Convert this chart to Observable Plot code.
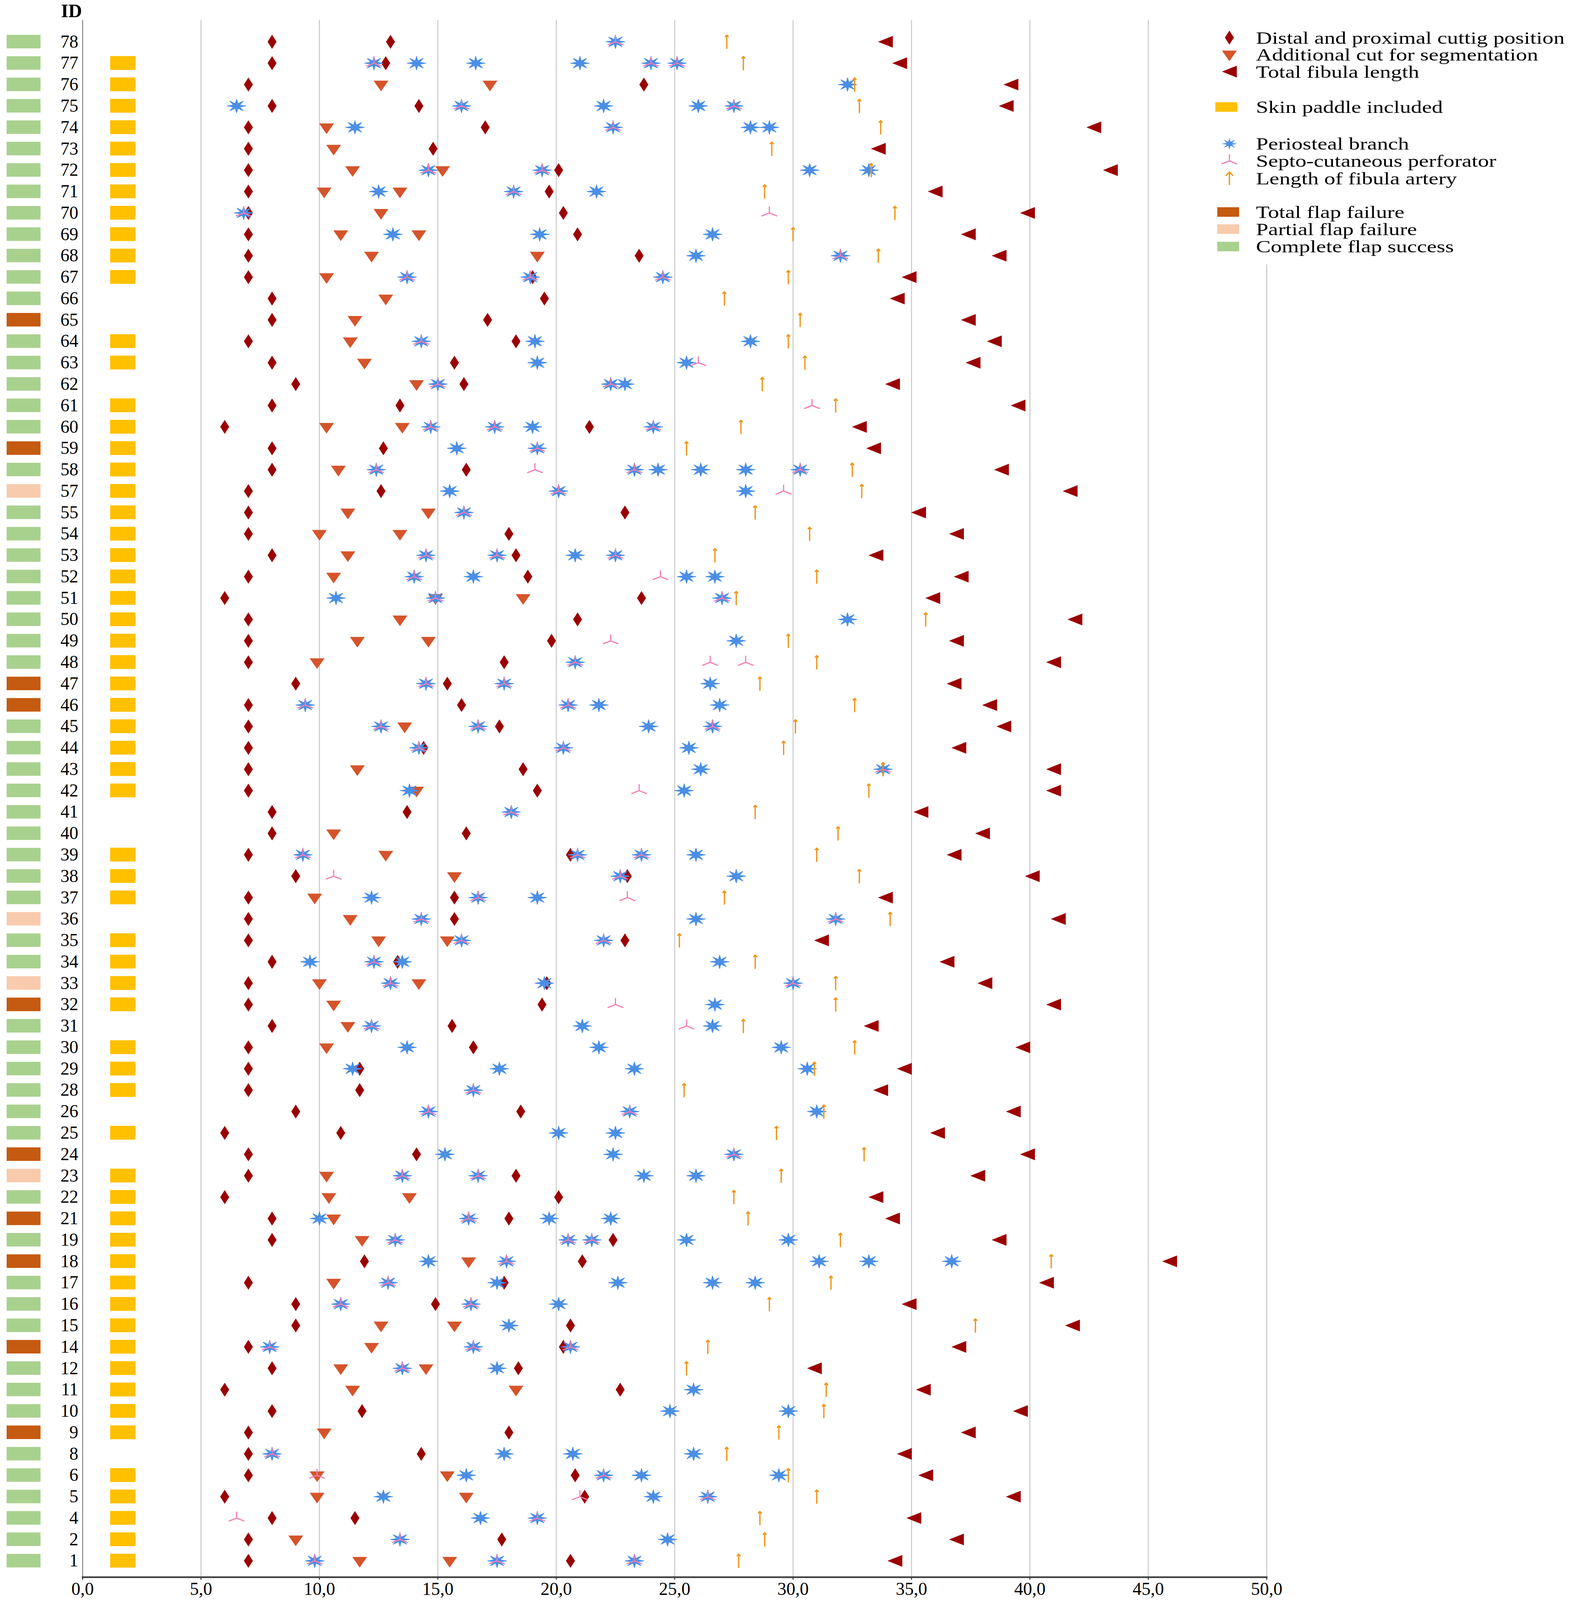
<!DOCTYPE html>
<html>
<head>
<meta charset="utf-8">
<script src="https://cdn.jsdelivr.net/npm/d3@7"></script>
<script src="https://cdn.jsdelivr.net/npm/@observablehq/plot@0.6"></script>
<style>
  html, body { margin: 0; padding: 0; background: #fff; overflow: hidden; }
  #wrap { position: relative; overflow: hidden; background: #fff; }
  #legend { position: absolute; top: 0px; }
</style>
</head>
<body>
<div id="wrap"></div>
<script>
// ---------- DATA (rows listed top to bottom) ----------
const ids = [78,77,76,75,74,73,72,71,70,69,68,67,66,65,64,63,62,61,60,59,58,57,55,54,53,52,51,50,49,48,47,46,45,44,43,42,41,40,39,38,37,36,35,34,33,32,31,30,29,28,26,25,24,23,22,21,19,18,17,16,15,14,12,11,10,9,8,6,5,4,2,1];

// T = total flap failure, P = partial flap failure, S = complete flap success
const outcome = ["S","S","S","S","S","S","S","S","S","S","S","S","S","T","S","S","S","S","S","T","S","P","S","S","S","S","S","S","S","S","T","T","S","S","S","S","S","S","S","S","S","P","S","S","P","T","S","S","S","S","S","S","T","P","S","T","S","T","S","S","S","T","S","S","S","T","S","S","S","S","S","S"];

const skinPaddle = [0,1,1,1,1,1,1,1,1,1,1,1,0,0,1,1,0,1,1,1,1,1,1,1,1,1,1,1,1,1,1,1,1,1,1,1,0,0,1,1,1,0,1,1,1,1,0,1,1,1,0,1,0,1,1,1,1,1,1,1,1,1,1,1,1,1,0,1,1,1,1,1];

const cuttingPositions = [[8.0,13.0],[8.0,12.8],[7.0,23.7],[8.0,14.2],[7.0,17.0],[7.0,14.8],[7.0,20.1],[7.0,19.7],[7.0,20.3],[7.0,20.9],[7.0,23.5],[7.0,19.0],[8.0,19.5],[8.0,17.1],[7.0,18.3],[8.0,15.7],[9.0,16.1],[8.0,13.4],[6.0,21.4],[8.0,12.7],[8.0,16.2],[7.0,12.6],[7.0,22.9],[7.0,18.0],[8.0,18.3],[7.0,18.8],[6.0,23.6],[7.0,20.9],[7.0,19.8],[7.0,17.8],[9.0,15.4],[7.0,16.0],[7.0,17.6],[7.0,14.4],[7.0,18.6],[7.0,19.2],[8.0,13.7],[8.0,16.2],[7.0,20.6],[9.0,23.0],[7.0,15.7],[7.0,15.7],[7.0,22.9],[8.0,13.3],[7.0,19.6],[7.0,19.4],[8.0,15.6],[7.0,16.5],[7.0,11.7],[7.0,11.7],[9.0,18.5],[6.0,10.9],[7.0,14.1],[7.0,18.3],[6.0,20.1],[8.0,18.0],[8.0,22.4],[11.9,21.1],[7.0,17.8],[9.0,14.9],[9.0,20.6],[7.0,20.3],[8.0,18.4],[6.0,22.7],[8.0,11.8],[7.0,18.0],[7.0,14.3],[7.0,20.8],[6.0,21.2],[8.0,11.5],[7.0,17.7],[7.0,20.6]];

const segmentationCuts = [[],[],[12.6,17.2],[],[10.3],[10.6],[11.4,15.2],[10.2,13.4],[12.6],[10.9,14.2],[12.2,19.2],[10.3],[12.8],[11.5],[11.3],[11.9],[14.1],[],[10.3,13.5],[],[10.8],[],[11.2,14.6],[10.0,13.4],[11.2],[10.6],[14.9,18.6],[13.4],[11.6,14.6],[9.9],[],[],[13.6],[],[11.6],[14.1],[],[10.6],[12.8],[15.7],[9.8],[11.3],[12.5,15.4],[],[10.0,14.2],[10.6],[11.2],[10.3],[],[],[],[],[],[10.3],[10.4,13.8],[10.6],[11.8],[16.3],[10.6],[],[12.6,15.7],[12.2],[10.9,14.5],[11.4,18.3],[],[10.2],[],[9.9,15.4],[9.9,16.2],[],[9.0],[11.7,15.5]];

const fibulaLength = [33.9,34.5,39.2,39.0,42.7,33.6,43.4,36.0,39.9,37.4,38.7,34.9,34.4,37.4,38.5,37.6,34.2,39.5,32.8,33.4,38.8,41.7,35.3,36.9,33.5,37.1,35.9,41.9,36.9,41.0,36.8,38.3,38.9,37.0,41.0,41.0,35.4,38.0,36.8,40.1,33.9,41.2,31.2,36.5,38.1,41.0,33.3,39.7,34.7,33.7,39.3,36.1,39.9,37.8,33.5,34.2,38.7,45.9,40.7,34.9,41.8,37.0,30.9,35.5,39.6,37.4,34.7,35.6,39.3,35.1,36.9,34.3];

const periostealBranches = [[22.5],[12.3,14.1,16.6,21.0,24.0,25.1],[32.3],[6.5,16.0,22.0,26.0,27.5],[11.5,22.4,28.2,29.0],[],[14.6,19.4,30.7,33.2],[12.5,18.2,21.7],[6.8],[13.1,19.3,26.6],[25.9,32.0],[13.7,18.9,24.5],[],[],[14.3,19.1,28.2],[19.2,25.5],[15.0,22.3,22.9],[],[14.7,17.4,19.0,24.1],[15.8,19.2],[12.4,23.3,24.3,26.1,28.0,30.3],[15.5,20.1,28.0],[16.1],[],[14.5,17.5,20.8,22.5],[14.0,16.5,25.5,26.7],[10.7,14.9,27.0],[32.3],[27.6],[20.8],[14.5,17.8,26.5],[9.4,20.5,21.8,26.9],[12.6,16.7,23.9,26.6],[14.2,20.3,25.6],[26.1,33.8],[13.8,25.4],[18.1],[],[9.3,20.9,23.6,25.9],[22.7,27.6],[12.2,16.7,19.2],[14.3,25.9,31.8],[16.0,22.0],[9.6,12.3,13.5,26.9],[13.0,19.5,30.0],[26.7],[12.2,21.1,26.6],[13.7,21.8,29.5],[11.4,17.6,23.3,30.6],[16.5],[14.6,23.1,31.0],[20.1,22.5],[15.3,22.4,27.5],[13.5,16.7,23.7,25.9],[],[10.0,16.3,19.7,22.3],[13.2,20.5,21.5,25.5,29.8],[14.6,17.9,31.1,33.2,36.7],[12.9,17.5,22.6,26.6,28.4],[10.9,16.4,20.1],[18.0],[7.9,16.5,20.6],[13.5,17.5],[25.8],[24.8,29.8],[],[8.0,17.8,20.7,25.8],[16.2,22.0,23.6,29.4],[12.7,24.1,26.4],[16.8,19.2],[13.4,24.7],[9.8,17.5,23.3]];

const septoCutaneous = [[22.5],[12.3,24.0,25.1],[],[16.0,27.5],[22.4],[],[14.6,19.4],[18.2],[6.8,29.0],[],[32.0],[13.7,18.9,24.5],[],[],[14.3],[26.0],[15.0,22.3],[30.8],[14.7,17.4,24.1],[19.2],[12.4,19.1,23.3,30.3],[20.1,29.6],[16.1],[],[14.5,17.5,22.5],[14.0,24.4],[14.9,27.0],[],[22.3],[20.8,26.5,28.0],[14.5,17.8],[9.4,20.5],[12.6,16.7,26.6],[14.2,20.3],[33.8],[23.5],[18.1],[],[9.3,20.9,23.6],[10.6,22.7],[16.7,23.0],[14.3,31.8],[16.0,22.0],[12.3],[13.0,30.0],[22.5],[12.2,25.5],[],[],[16.5],[14.6,23.1],[],[27.5],[13.5,16.7],[],[16.3],[13.2,20.5,21.5],[17.9],[12.9],[10.9,16.4],[],[7.9,16.5,20.6],[13.5],[],[],[],[8.0],[9.9,22.0],[21.0,26.4],[6.5,19.2],[13.4],[9.8,17.5,23.3]];

const fibulaArtery = [27.2,27.9,32.6,32.8,33.7,29.1,33.3,28.8,34.3,30.0,33.6,29.8,27.1,30.3,29.8,30.5,28.7,31.8,27.8,25.5,32.5,32.9,28.4,30.7,26.7,31.0,27.6,35.6,29.8,31.0,28.6,32.6,30.1,29.6,33.8,33.2,28.4,31.9,31.0,32.8,27.1,34.1,25.2,28.4,31.8,31.8,27.9,32.6,30.9,25.4,31.3,29.3,33.0,29.5,27.5,28.1,32.0,40.9,31.6,29.0,37.7,26.4,25.5,31.4,31.3,29.4,27.2,29.8,31.0,28.6,28.8,27.7];

const xTicks = [0,5,10,15,20,25,30,35,40,45,50];
const outcomeNames = {T: "Total flap failure", P: "Partial flap failure", S: "Complete flap success"};
const legendLabels = ["Distal and proximal cuttig position", "Additional cut for segmentation", "Total fibula length", "Skin paddle included", "Periosteal branch", "Septo-cutaneous perforator", "Length of fibula artery", "Total flap failure", "Partial flap failure", "Complete flap success"];

// ---------- STYLE ----------
const C = {
  cut: "#9b0000", seg: "#d5542b", len: "#9b0000", skin: "#ffc000",
  peri: "#4b8fe5", septo: "#f47cb4", artery: "#ee961a",
  total: "#c55a11", partial: "#f8cbad", success: "#a9d18e",
  grid: "#c9c9c9"
};
const FONT = "'Liberation Serif', 'Times New Roman', serif";

// design space is 4024 x 5698; fit it to the visible window
const DW = 4024, DH = 5698;
const W = Math.min(window.innerWidth || DW, DW);
const H = Math.min(window.innerHeight || DH, DH);
const SX = W / DW, SY = H / DH, K = Math.sqrt(SX * SY);
const FS = Math.min(1, SY * 1.12);
const px = v => v * SX, py = v => v * SY;
const wrap = document.getElementById("wrap");
wrap.style.width = W + "px"; wrap.style.height = H + "px";

// ---------- custom symbols (sized in design pixels) ----------
const symDiamond = {draw(c){c.moveTo(0,py(-25)); c.lineTo(px(11.5),0); c.lineTo(0,py(25)); c.lineTo(px(-11.5),0); c.closePath();}};
const symTriDown = {draw(c){c.moveTo(px(-19),py(-14)); c.lineTo(px(19),py(-14)); c.lineTo(0,py(24)); c.closePath();}};
const symTriLeft = {draw(c){c.moveTo(px(-19),0); c.lineTo(px(19),py(-21)); c.lineTo(px(19),py(21)); c.closePath();}};
const starOf = r => ({draw(c){for (let k = 0; k < 16; k++){const a = -Math.PI/2 + k*Math.PI/8; const rr = k % 2 ? 0.36*r : r; const x = px(rr*Math.cos(a)), y = py(rr*Math.sin(a)); k ? c.lineTo(x,y) : c.moveTo(x,y);} c.closePath();}});
const symStar = starOf(24), symStarLegend = starOf(21);
const symY = {draw(c){c.moveTo(0,py(-23)); c.lineTo(0,0); c.moveTo(px(-20),py(11)); c.lineTo(0,0); c.lineTo(px(20),py(11));}};

// ---------- tables ----------
const rows = ids.map((id, i) => ({id: String(id), outcome: outcomeNames[outcome[i]], skin: skinPaddle[i]}));
const flat = arr => ids.flatMap((id, i) => [].concat(arr[i]).map(v => ({id: String(id), v})));

const arrowLen = py(47);
const chart = Plot.plot({
  width: W, height: H,
  marginLeft: px(211), marginRight: px(DW - 3242), marginTop: py(71), marginBottom: py(82),
  style: {fontFamily: FONT, fontSize: (57 * FS) + "px", background: "white", color: "black"},
  x: {domain: [0, 50], label: null},
  y: {type: "band", domain: ids.map(String), range: [py(110), py(5596)], padding: 0, label: null},
  color: {type: "ordinal", domain: Object.values(outcomeNames), range: [C.total, C.partial, C.success], legend: false},
  marks: [
    Plot.gridX(xTicks.slice(1), {stroke: C.grid, strokeOpacity: 1, strokeWidth: 3 * K}),
    Plot.ruleX([0], {stroke: "#8a8a8a", strokeWidth: 3 * K}),
    Plot.frame({anchor: "bottom", stroke: "#3c3c3c", strokeWidth: 5 * K}),
    Plot.axisX({ticks: xTicks, tickFormat: d => d.toFixed(1).replace(".", ","), tickSize: py(10), tickPadding: py(8), stroke: "#3c3c3c", strokeWidth: 3 * K, fontSize: 57 * FS, label: null}),
    Plot.axisY({tickSize: 0, tickPadding: px(11), fontSize: 57 * FS, label: null}),
    Plot.barX(rows, {y: "id", x1: -3.2, x2: -1.77, fill: "outcome", insetTop: py(14), insetBottom: py(14)}),
    Plot.barX(rows.filter(d => d.skin), {y: "id", x1: 1.17, x2: 2.24, fill: C.skin, insetTop: py(13.5), insetBottom: py(13.5)}),
    Plot.dot(flat(cuttingPositions), {x: "v", y: "id", symbol: symDiamond, r: 10, fill: C.cut, stroke: "none"}),
    Plot.dot(flat(segmentationCuts), {x: "v", y: "id", symbol: symTriDown, r: 10, fill: C.seg, stroke: "none"}),
    Plot.dot(flat(periostealBranches), {x: "v", y: "id", symbol: symStar, r: 10, fill: C.peri, stroke: C.peri, strokeWidth: 2 * K, strokeLinejoin: "round"}),
    Plot.dot(flat(septoCutaneous), {x: "v", y: "id", symbol: symY, r: 10, fill: "none", stroke: C.septo, strokeWidth: 3.5 * K}),
    Plot.vector(flat(fibulaArtery), {x: "v", y: "id", length: arrowLen, rotate: 0, anchor: "middle", shape: "arrow", r: 11 * K * 7 / arrowLen, stroke: C.artery, strokeWidth: 4 * K}),
    Plot.dot(flat(fibulaLength), {x: "v", y: "id", symbol: symTriLeft, r: 10, fill: C.len, stroke: "none"})
  ]
});
wrap.appendChild(chart);

// "ID" header above the row labels
const svg = d3.select(chart);
const idSize = 60 * FS;
svg.append("text").attr("x", px(210)).attr("y", Math.max(py(43), idSize * 0.92))
  .attr("text-anchor", "end").attr("font-family", FONT).attr("font-weight", "bold")
  .attr("font-size", idSize).attr("fill", "black").text("ID");

// ---------- legend (overlay, right side) ----------
const legendSpec = [
  {y: 134, kind: "sym", sym: symDiamond, fill: C.cut},
  {y: 194, kind: "sym", sym: symTriDown, fill: C.seg},
  {y: 255, kind: "sym", sym: symTriLeft, fill: C.len},
  {y: 381, kind: "rect", fill: C.skin, x: 111, w: 56},
  {y: 512, kind: "sym", sym: symStarLegend, fill: C.peri},
  {y: 573, kind: "line", sym: symY, stroke: C.septo},
  {y: 636, kind: "arrow", stroke: C.artery},
  {y: 755, kind: "rect", fill: C.total, x: 116, w: 56},
  {y: 816, kind: "rect", fill: C.partial, x: 116, w: 56},
  {y: 878, kind: "rect", fill: C.success, x: 116, w: 56}
];
const LW = DW - 3000, LH = 942;
const legendFont = 57 * FS * 0.95;
const stretch = Math.min(1.3, (57 * SX) / legendFont); // keep the reference's text widths
const lg = d3.create("svg").attr("id", "legend").attr("width", px(LW)).attr("height", py(LH))
  .style("left", px(3000) + "px")
  .style("font-family", FONT).style("font-size", legendFont + "px");
lg.append("rect").attr("width", px(LW)).attr("height", py(LH)).attr("fill", "white");
legendSpec.forEach((it, i) => {
  const g = lg.append("g").attr("transform", `translate(0,${py(it.y)})`);
  if (it.kind === "rect") {
    g.append("rect").attr("x", px(it.x)).attr("y", py(-17)).attr("width", px(it.w)).attr("height", py(34)).attr("fill", it.fill);
  } else if (it.kind === "arrow") {
    const a = py(23), w = 11 * K;
    g.append("path").attr("transform", `translate(${px(147)},0)`)
      .attr("d", `M0,${a}L0,${-a}M${-w},${-a + w}L0,${-a}L${w},${-a + w}`)
      .attr("fill", "none").attr("stroke", it.stroke).attr("stroke-width", 4 * K);
  } else {
    const p = d3.path(); it.sym.draw(p, 1);
    const el = g.append("path").attr("transform", `translate(${px(147)},0)`).attr("d", p.toString());
    if (it.kind === "line") el.attr("fill", "none").attr("stroke", it.stroke).attr("stroke-width", 3.5 * K);
    else el.attr("fill", it.fill);
  }
  g.append("text").attr("transform", `translate(${px(215)},0) scale(${stretch},1)`)
    .attr("dy", "0.35em").attr("fill", "black").text(legendLabels[i]);
});
wrap.appendChild(lg.node());
</script>
</body>
</html>
